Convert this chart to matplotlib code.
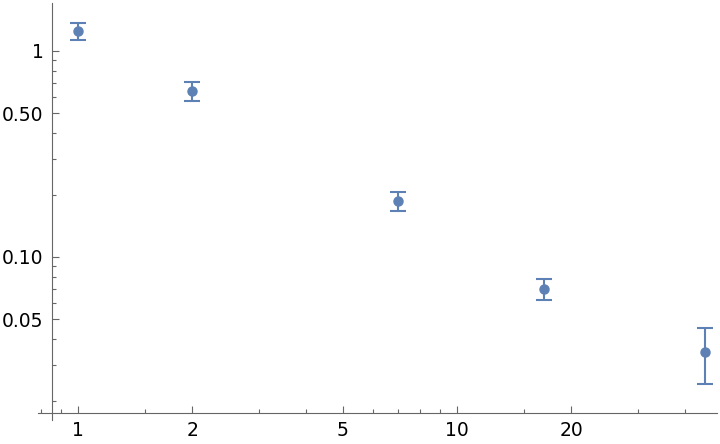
import matplotlib
matplotlib.use("Agg")
import matplotlib.pyplot as plt
from matplotlib.ticker import FixedLocator, FixedFormatter, NullFormatter

# data
x = [1, 2, 7, 17, 45]
y = [1.25, 0.64, 0.187, 0.070, 0.0346]
yerr = [0.125, 0.065, 0.020, 0.0085, 0.0105]

xticks = [1, 2, 5, 10, 20]
xticklabels = ["1", "2", "5", "10", "20"]
xminor = [0.8, 0.9, 1.5, 3, 4, 6, 7, 8, 9, 15, 30, 40]
yticks = [1, 0.5, 0.1, 0.05]
yticklabels = ["1", "0.50", "0.10", "0.05"]
yminor = [0.9, 0.8, 0.7, 0.6, 0.4, 0.3, 0.2, 0.09, 0.08, 0.07, 0.06, 0.04, 0.03, 0.02]

blue = "#5E81B5"
gray = "#666666"

fig = plt.figure(figsize=(7.2, 4.44), dpi=100)
ax = fig.add_axes([38 / 720, 1 - 420 / 444, (717 - 38) / 720, (420 - 3) / 444])
ax.set_xscale("log")
ax.set_yscale("log")
ax.set_xlim(0.784, 48.5)
ax.set_ylim(0.01617, 1.71)

ax.errorbar(x, y, yerr=yerr, fmt="o", color=blue, ms=6.5, elinewidth=1.5,
            capsize=5.5, capthick=1.5, clip_on=False, zorder=3)

# Mathematica-style crossing axes
for s in ["top", "right"]:
    ax.spines[s].set_visible(False)
ax.spines["left"].set_position(("data", 0.854))
ax.spines["bottom"].set_position(("data", 0.0175))
for s in ["left", "bottom"]:
    ax.spines[s].set_color(gray)
    ax.spines[s].set_linewidth(0.8)

ax.xaxis.set_major_locator(FixedLocator(xticks))
ax.xaxis.set_major_formatter(FixedFormatter(xticklabels))
ax.xaxis.set_minor_locator(FixedLocator(xminor))
ax.xaxis.set_minor_formatter(NullFormatter())
ax.yaxis.set_major_locator(FixedLocator(yticks))
ax.yaxis.set_major_formatter(FixedFormatter(yticklabels))
ax.yaxis.set_minor_locator(FixedLocator(yminor))
ax.yaxis.set_minor_formatter(NullFormatter())

ax.tick_params(which="both", direction="in", color=gray, width=0.8, labelsize=13.5)
ax.tick_params(which="major", length=5, pad=6)
ax.tick_params(which="minor", length=2.8)

fig.savefig("out.png", dpi=100)
